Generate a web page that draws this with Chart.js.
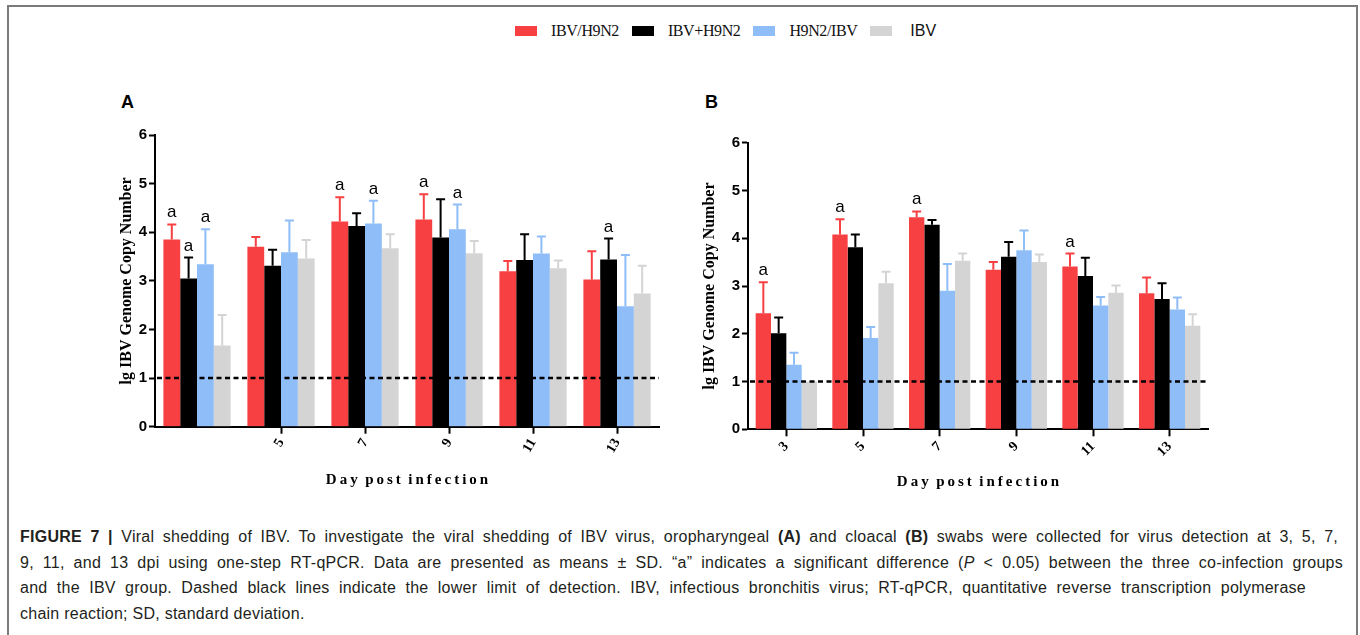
<!DOCTYPE html>
<html>
<head>
<meta charset="utf-8">
<script src="https://cdn.jsdelivr.net/npm/chart.js@4.4.1/dist/chart.umd.min.js"></script>
<style>
  body { margin: 0; background: #fff; width: 1360px; height: 635px; overflow: hidden; position: relative; font-family: "Liberation Sans", Arial, sans-serif; }
  .frame { position: absolute; left: 7px; top: 5px; width: 1347px; height: 700px; border: 2px solid #7a7a7a; }
  .legend { position: absolute; left: 515px; top: 21px; height: 20px; display: flex; align-items: center; }
  .legend .box { width: 22px; height: 10px; margin-right: 14px; }
  .legend .txt { font-family: "Liberation Serif", "Times New Roman", serif; font-size: 16px; color: #111; margin-right: 13px; letter-spacing: -0.4px; }
  .legend .txt.sans { font-family: "Liberation Sans", Arial, sans-serif; font-size: 16px; letter-spacing: 0; margin-left: 4px; }
  .panel { position: absolute; font-weight: bold; font-size: 18px; color: #000; }
  canvas { position: absolute; }
  .caption { position: absolute; left: 20px; top: 524px; font-size: 16px; line-height: 25.7px; color: #231f20; letter-spacing: 0.25px; }
  .caption div { text-align: justify; text-align-last: justify; }
  .caption div.last { text-align-last: left; white-space: nowrap; }
</style>
</head>
<body>
<div class="frame"></div>
<div class="legend" id="legend"></div>
<div class="panel" style="left:121px; top:92px;">A</div>
<div class="panel" style="left:705px; top:92px;">B</div>
<canvas id="chartA" width="590" height="390" style="left:90px; top:120px;"></canvas>
<canvas id="chartB" width="560" height="390" style="left:680px; top:120px;"></canvas>
<div class="caption">
<div style="width:1318px;"><b>FIGURE 7 |</b> Viral shedding of IBV. To investigate the viral shedding of IBV virus, oropharyngeal <b>(A)</b> and cloacal <b>(B)</b> swabs were collected for virus detection at 3, 5, 7,</div>
<div style="width:1323px;">9, 11, and 13 dpi using one-step RT-qPCR. Data are presented as means ± SD. “a” indicates a significant difference (<i>P</i> &lt; 0.05) between the three co-infection groups</div>
<div style="width:1286px;">and the IBV group. Dashed black lines indicate the lower limit of detection. IBV, infectious bronchitis virus; RT-qPCR, quantitative reverse transcription polymerase</div>
<div class="last">chain reaction; SD, standard deviation.</div>
</div>
<script>
// categories (days post infection) and tick labels
const categories = ['3', '5', '7', '9', '11', '13'];
const tickLabelsA = ['', '5', '7', '9', '11', '13'];   // panel A has no label/tick on day 3
const tickLabelsB = ['3', '5', '7', '9', '11', '13'];
const yTicks = [0, 1, 2, 3, 4, 5, 6];
const detectionLimit = 1;

const seriesNames = ['IBV/H9N2', 'IBV+H9N2', 'H9N2/IBV', 'IBV'];
const seriesColors = ['#f74042', '#000000', '#8fbdf7', '#d4d4d4'];

// panel A - oropharyngeal, means
const meanA_IBV_H9N2 = [3.85, 3.70, 4.22, 4.26, 3.20, 3.03];
const meanA_IBVplusH9N2 = [3.05, 3.31, 4.13, 3.89, 3.43, 3.44];
const meanA_H9N2_IBV = [3.34, 3.59, 4.18, 4.06, 3.56, 2.48];
const meanA_IBV = [1.67, 3.46, 3.67, 3.57, 3.26, 2.74];
// panel A, SD
const sdA_IBV_H9N2 = [0.31, 0.20, 0.50, 0.52, 0.21, 0.58];
const sdA_IBVplusH9N2 = [0.43, 0.33, 0.26, 0.79, 0.53, 0.43];
const sdA_H9N2_IBV = [0.72, 0.65, 0.47, 0.51, 0.35, 1.05];
const sdA_IBV = [0.63, 0.38, 0.29, 0.25, 0.16, 0.57];
// panel A, "a" marks
const sigA_IBV_H9N2 = [1, 0, 1, 1, 0, 0];
const sigA_IBVplusH9N2 = [1, 0, 0, 0, 0, 1];
const sigA_H9N2_IBV = [1, 0, 1, 1, 0, 0];
const sigA_IBV = [0, 0, 0, 0, 0, 0];

// panel B - cloacal, means
const meanB_IBV_H9N2 = [2.43, 4.08, 4.44, 3.34, 3.41, 2.85];
const meanB_IBVplusH9N2 = [2.01, 3.81, 4.28, 3.61, 3.21, 2.73];
const meanB_H9N2_IBV = [1.35, 1.91, 2.90, 3.75, 2.59, 2.51];
const meanB_IBV = [1.00, 3.06, 3.53, 3.50, 2.86, 2.17];
// panel B, SD
const sdB_IBV_H9N2 = [0.65, 0.32, 0.12, 0.16, 0.27, 0.33];
const sdB_IBVplusH9N2 = [0.33, 0.27, 0.10, 0.31, 0.38, 0.33];
const sdB_H9N2_IBV = [0.25, 0.23, 0.56, 0.41, 0.18, 0.25];
const sdB_IBV = [0, 0.24, 0.15, 0.16, 0.15, 0.24];
// panel B, "a" marks
const sigB_IBV_H9N2 = [1, 1, 1, 0, 1, 0];
const sigB_IBVplusH9N2 = [0, 0, 0, 0, 0, 0];
const sigB_H9N2_IBV = [0, 0, 0, 0, 0, 0];
const sigB_IBV = [0, 0, 0, 0, 0, 0];

// legend (shared by both panels)
const legend = document.getElementById('legend');
seriesNames.forEach((name, i) => {
    const box = document.createElement('span');
    box.className = 'box';
    box.style.background = seriesColors[i];
    const txt = document.createElement('span');
    txt.className = 'txt' + (name === 'IBV' ? ' sans' : '');
    txt.textContent = name;
    legend.appendChild(box);
    legend.appendChild(txt);
});

// error bars, "a" labels and the dashed detection limit
const extrasPlugin = {
    id: 'extras',
    afterDatasetsDraw(chart, args, opts) {
        const ctx = chart.ctx;
        const yScale = chart.scales.y;
        const area = chart.chartArea;

        // dashed line at detection limit
        const ly = yScale.getPixelForValue(opts.limit);
        ctx.save();
        ctx.strokeStyle = '#000';
        ctx.lineWidth = 2.5;
        ctx.setLineDash([5, 3.5]);
        ctx.beginPath();
        ctx.moveTo(area.left + 2, ly);
        ctx.lineTo(area.right, ly);
        ctx.stroke();
        ctx.restore();

        chart.data.datasets.forEach((ds, i) => {
            const meta = chart.getDatasetMeta(i);
            meta.data.forEach((bar, j) => {
                const sd = opts.sd[i][j];
                const topVal = ds.data[j] + sd;
                const py = yScale.getPixelForValue(topVal);
                if (sd > 0) {
                    ctx.save();
                    ctx.strokeStyle = ds.backgroundColor;
                    ctx.lineWidth = 2;
                    ctx.beginPath();
                    ctx.moveTo(bar.x, bar.y);
                    ctx.lineTo(bar.x, py);
                    ctx.moveTo(bar.x - 4.5, py);
                    ctx.lineTo(bar.x + 4.5, py);
                    ctx.stroke();
                    ctx.restore();
                }
                if (opts.sig[i][j]) {
                    ctx.save();
                    ctx.fillStyle = '#000';
                    ctx.font = '17px "Liberation Sans", Arial, sans-serif';
                    ctx.textAlign = 'center';
                    ctx.textBaseline = 'alphabetic';
                    ctx.fillText('a', bar.x, py - 7);
                    ctx.restore();
                }
            });
        });
    }
};

function makeChart(id, tickLabels, means, sds, sigs, layout) {
    const datasets = seriesNames.map((name, i) => ({
        label: name,
        data: means[i],
        backgroundColor: seriesColors[i],
        borderWidth: 0,
        categoryPercentage: 0.8,
        barPercentage: 1.0
    }));

    return new Chart(document.getElementById(id), {
        type: 'bar',
        data: { labels: categories, datasets: datasets },
        options: {
            responsive: false,
            animation: false,
            layout: { padding: layout.padding },
            plugins: {
                legend: { display: false },
                tooltip: { enabled: false },
                extras: { sd: sds, sig: sigs, limit: detectionLimit }
            },
            scales: {
                x: {
                    offset: true,
                    grid: {
                        offset: false,
                        drawOnChartArea: false,
                        drawTicks: true,
                        tickLength: 7,
                        tickWidth: 2,
                        tickColor: (c) => tickLabels[c.index] === '' ? 'rgba(0,0,0,0)' : '#000'
                    },
                    border: { display: true, color: '#000', width: 2 },
                    ticks: {
                        autoSkip: false,
                        minRotation: layout.rotation,
                        maxRotation: layout.rotation,
                        padding: 2,
                        color: '#000',
                        font: { family: '"Liberation Serif", "Times New Roman", serif', size: 14, weight: 'bold' },
                        callback: (v, i) => tickLabels[i]
                    },
                    title: {
                        display: true,
                        text: 'D\u2009a\u2009y  p\u2009o\u2009s\u2009t  i\u2009n\u2009f\u2009e\u2009c\u2009t\u2009i\u2009o\u2009n',
                        color: '#000',
                        font: { family: '"Liberation Serif", "Times New Roman", serif', size: 15, weight: 'bold' },
                        padding: { top: 0, bottom: layout.xTitlePad }
                    },
                    afterFit: (s) => { s.height = layout.xHeight; }
                },
                y: {
                    min: 0,
                    max: 6,
                    afterBuildTicks: (s) => { s.ticks = yTicks.map(v => ({ value: v })); },
                    grid: {
                        drawOnChartArea: false,
                        drawTicks: true,
                        tickLength: 6,
                        tickWidth: 2,
                        tickColor: '#000'
                    },
                    border: { display: true, color: '#000', width: 2 },
                    ticks: {
                        padding: 2,
                        color: '#000',
                        font: { family: '"Liberation Sans", Arial, sans-serif', size: 15, weight: 'bold' }
                    },
                    title: {
                        display: true,
                        text: 'lg IBV Genome Copy Number',
                        color: '#000',
                        font: { family: '"Liberation Serif", "Times New Roman", serif', size: 16, weight: 'bold' },
                        padding: { top: 3, bottom: 0 }
                    },
                    afterFit: (s) => { s.width = layout.yWidth; }
                }
            }
        },
        plugins: [extrasPlugin]
    });
}

makeChart('chartA', tickLabelsA,
    [meanA_IBV_H9N2, meanA_IBVplusH9N2, meanA_H9N2_IBV, meanA_IBV],
    [sdA_IBV_H9N2, sdA_IBVplusH9N2, sdA_H9N2_IBV, sdA_IBV],
    [sigA_IBV_H9N2, sigA_IBVplusH9N2, sigA_H9N2_IBV, sigA_IBV],
    { padding: { left: 24, top: 15, right: 21, bottom: 0 }, yWidth: 41, xHeight: 83.3, xTitlePad: 21, rotation: 60 });

makeChart('chartB', tickLabelsB,
    [meanB_IBV_H9N2, meanB_IBVplusH9N2, meanB_H9N2_IBV, meanB_IBV],
    [sdB_IBV_H9N2, sdB_IBVplusH9N2, sdB_H9N2_IBV, sdB_IBV],
    [sigB_IBV_H9N2, sigB_IBVplusH9N2, sigB_H9N2_IBV, sigB_IBV],
    { padding: { left: 17, top: 22.7, right: 32, bottom: 0 }, yWidth: 51, xHeight: 80.7, xTitlePad: 19, rotation: 45 });
</script>
</body>
</html>
